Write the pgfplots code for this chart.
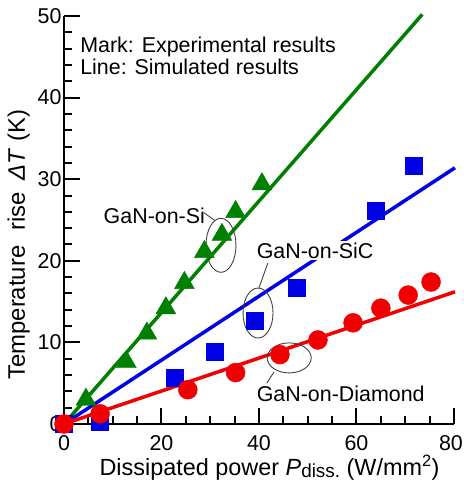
\documentclass[border=0pt]{standalone}
\usepackage{pgfplots}
\pgfplotsset{compat=1.18}
\usepackage{fontspec}
\setmainfont{Liberation Sans}
\definecolor{cgreen}{RGB}{0,128,0}
\definecolor{cblue}{RGB}{0,0,230}
\definecolor{cred}{RGB}{240,0,0}
\begin{document}
\begin{tikzpicture}[font=\fontsize{21.5}{25}\selectfont]
\useasboundingbox (-64bp,-62bp) rectangle (400bp,424bp);
\begin{axis}[
  scale only axis, width=390bp, height=408bp,
  at={(0,0)}, anchor=south west,
  xmin=0, xmax=80, ymin=0, ymax=50,
  axis lines=left,
  axis line style={-, line width=2.2bp, black},
  xtick={0,20,40,60,80}, ytick={0,10,20,30,40,50},
  xticklabels={0,20,40,60,\hspace*{-6bp}80},
  minor x tick num=3, minor y tick num=4,
  tick align=inside,
  major tick length=16bp, minor tick length=8bp,
  every tick/.style={black, line width=2bp},
  tick label style={font=\fontsize{21.5}{25}\selectfont},
  xticklabel style={yshift=-8bp},
  yticklabel style={xshift=1bp},
  /pgf/number format/assume math mode=true,
  clip=false,
  xlabel={Dissipated power \textit{P}\raisebox{-0.2ex}{\fontsize{19}{22}\selectfont diss.} (W/mm\textsuperscript{2})},
  ylabel={Temperature\hspace{0.35em} rise\hspace{0.2em} \textit{ΔT} (K)},
  xlabel style={at={(axis description cs:0.527,-0.125)}, anchor=base, font=\fontsize{23.5}{27}\selectfont},
  ylabel style={at={(axis description cs:-0.1,0.439)}, anchor=base, font=\fontsize{24}{28}\selectfont},
]
% simulated lines
\addplot[cgreen, line width=3.5bp] coordinates {(0,0) (73.5,50.2)};
\addplot[cblue, line width=3.5bp] coordinates {(0,0) (80.2,31.4)};
\addplot[cred, line width=3.5bp] coordinates {(0,0) (80.2,16.2)};
% experimental marks
\addplot[only marks, mark=triangle*, mark size=11.5bp, cgreen, mark options={fill=cgreen, draw=cgreen}] coordinates {
(4.5,3.0) (12.8,7.6) (17.0,11.1) (20.9,14.2) (24.7,17.3) (28.8,21.1) (32.4,23.2) (35.2,26.0) (40.6,29.4)};
\addplot[only marks, mark=square*, mark size=8.5bp, cblue, mark options={fill=cblue, draw=cblue}] coordinates {
(0,0) (7.4,0.3) (22.8,5.7) (31.0,8.9) (39.2,12.6) (47.7,16.7) (64.0,26.1) (71.8,31.6)};
\addplot[only marks, mark=*, mark size=9.5bp, cred, mark options={fill=cred, draw=cred}] coordinates {
(0,0) (7.4,1.25) (25.4,4.2) (35.2,6.3) (44.3,8.5) (52.1,10.3) (59.3,12.4) (65.0,14.2) (70.6,15.8) (75.3,17.4)};
% annotations
\node[anchor=base west, inner sep=0pt] at (axis cs:3.3,45.5) {Mark: Experimental results};
\node[anchor=base west, inner sep=0pt] at (axis cs:3.3,42.8) {Line: Simulated results};
\node[anchor=base west, inner sep=1.5bp, fill=white] at (axis cs:7.8,24.6) {GaN-on-Si};
\node[anchor=base west, inner sep=1.5bp, fill=white] at (axis cs:39.2,20.3) {GaN-on-SiC};
\node[anchor=base west, inner sep=1.5bp, fill=white] at (axis cs:39.2,2.7) {GaN-on-Diamond};
\draw[black!75, line width=0.9bp] (axis cs:32.2,21.9) ellipse [x radius=15bp, y radius=27bp];
\draw[black!75, line width=0.9bp] (axis cs:39.8,13.6) ellipse [x radius=15bp, y radius=25bp];
\draw[black!75, line width=0.9bp] (axis cs:46.2,8.1) ellipse [x radius=22bp, y radius=15bp];
\draw[black!75, line width=0.9bp] (axis cs:28.7,25.9) -- (axis cs:31.0,24.9);
\draw[black!75, line width=0.9bp] (axis cs:41.8,19.7) -- (axis cs:40.0,16.7);
\draw[black!75, line width=0.9bp] (axis cs:43.1,6.4) -- (axis cs:41.6,5.0);
\end{axis}
\end{tikzpicture}
\end{document}
